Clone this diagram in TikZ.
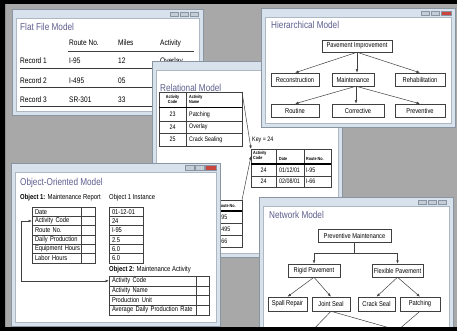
\documentclass[tikz,border=0pt]{standalone}
\usepackage{fontspec}
\setmainfont{Liberation Sans}[FakeStretch=0.82]
\usepackage{xcolor}
\usepackage{tikz}
\usetikzlibrary{arrows.meta,positioning}

\definecolor{bggray}{HTML}{A8A8A8}
\definecolor{winblue}{HTML}{D8E2EC}
\definecolor{winedge}{HTML}{8995A3}
\definecolor{paneedge}{HTML}{AEB8C3}
\definecolor{titlecol}{HTML}{5E5E8E}
\definecolor{boxcol}{HTML}{404040}
\definecolor{btnred}{HTML}{C9453D}
\definecolor{btngray}{HTML}{C4CDD6}

\begin{document}
\begin{tikzpicture}[x=1pt,y=-1pt,>={Latex[length=3.5pt,width=2.6pt]},
  win/.style={fill=winblue,draw=winedge,line width=0.6pt},
  pane/.style={fill=white,draw=paneedge,line width=0.4pt},
  winbtn/.style={fill=btngray,draw=winedge,line width=0.3pt},
  wintitle/.style={anchor=west,inner sep=0pt,text=titlecol,font=\fontsize{10}{12}\selectfont},
  txt/.style={anchor=west,inner sep=0pt,font=\fontsize{8}{9}\selectfont},
  reltxt/.style={anchor=west,inner sep=0pt,font=\fontsize{6.5}{7}\selectfont},
  hdtxt/.style={inner sep=0pt,font=\bfseries\fontsize{4.5}{4.8}\selectfont,align=left},
  ootxt/.style={anchor=west,inner sep=0pt,font=\fontsize{7.2}{8}\selectfont},
  ffrule/.style={line width=1pt,gray!45!black},
  tbox/.style={draw=boxcol,line width=0.5pt,anchor=north west,inner sep=0pt,outer sep=0pt},
  tblline/.style={boxcol,line width=0.5pt},
  hdrule/.style={line width=1.3pt,black},
  hbox/.style={draw=boxcol,fill=white,line width=0.5pt,minimum height=13pt,inner sep=1pt,font=\fontsize{7}{8}\selectfont},
  link/.style={->,boxcol,line width=0.5pt},
  oorow/.style={draw=boxcol,line width=0.5pt,minimum height=9.33pt,inner sep=0pt,inner xsep=3pt,outer sep=0pt,align=left,font=\fontsize{7}{8}\selectfont}]
  \useasboundingbox (0,0) rectangle (457,331);
  \fill[bggray] (0,0) rectangle (457,331);

  % flat file window
  \draw[win] (12,9) rectangle (203,115);
  \draw[pane] (16,18) rectangle (199,111);
  \draw[winbtn] (170,12) rectangle ++(8,4.5) (180,12) rectangle ++(8,4.5) (190,12) rectangle ++(8,4.5);
  \node[wintitle] (fftitle) at (20,27) {Flat File Model};
  \node[txt] (ffroute) at (69,43) {Route No.};
  \node[txt] (ffmiles) at (118,43) {Miles};
  \node[txt] (ffact) at (160,43) {Activity};
  \draw[tblline] (68,51) -- (194,51);
  \node[txt] (ffrec1) at (20,61) {Record 1};
  \node[txt] (ffrte1) at (69,61) {I-95};
  \node[txt] (ffmi1) at (118,61) {12};
  \node[txt] (ffact1) at (160,61) {Overlay};
  \draw[ffrule] (20,69) -- (194,69);
  \node[txt] (ffrec2) at (20,81) {Record 2};
  \node[txt] (ffrte2) at (69,81) {I-495};
  \node[txt] (ffmi2) at (118,81) {05};
  \draw[ffrule] (20,88) -- (194,88);
  \node[txt] (ffrec3) at (20,100) {Record 3};
  \node[txt] (ffrte3) at (69,100) {SR-301};
  \node[txt] (ffmi3) at (118,100) {33};
  \draw[ffrule] (20,107) -- (194,107);

  % relational window
  \draw[win] (152,61) rectangle (342,257);
  \draw[pane] (156,70) rectangle (338,253);
  \node[wintitle] (reltitle) at (160,88) {Relational Model};
  \node[tbox,minimum width=83pt,minimum height=54pt] (acttab) at (159,92) {};
  \draw[tblline] (186,92) -- (186,146) (159,121) -- (242,121) (159,133) -- (242,133);
  \draw[hdrule] (159,107.5) -- (242,107.5);
  \node[hdtxt,align=center] (acth1) at (172.5,99.5) {Activity\\Code};
  \node[hdtxt,anchor=west] (acth2) at (189,99.5) {Activity\\Name};
  \node[reltxt,anchor=center] (actc1) at (172.5,114.5) {23};
  \node[reltxt] (actn1) at (189,114.5) {Patching};
  \node[reltxt,anchor=center] (actc2) at (172.5,127) {24};
  \node[reltxt] (actn2) at (189,127) {Overlay};
  \node[reltxt,anchor=center] (actc3) at (172.5,139.5) {25};
  \node[reltxt] (actn3) at (189,139.5) {Crack Sealing};

  \node[reltxt] (keylbl) at (252,140) {Key = 24};
  \node[tbox,minimum width=80pt,minimum height=38pt] (keytab) at (251,149) {};
  \draw[tblline] (276,149) -- (276,187) (304,149) -- (304,187) (251,176) -- (331,176);
  \draw[hdrule] (251,164) -- (331,164);
  \node[hdtxt,anchor=north west] (keyh1) at (253,151.5) {Activity\\Code};
  \node[hdtxt,anchor=west] (keyh2) at (279,159) {Date};
  \node[hdtxt,anchor=west] (keyh3) at (306,159) {Route No.};
  \node[reltxt,anchor=center] (keyc1) at (263.5,170) {24};
  \node[reltxt] (keyd1) at (279,170) {01/12/01};
  \node[reltxt] (keyr1) at (306,170) {I-95};
  \node[reltxt,anchor=center] (keyc2) at (263.5,181.5) {24};
  \node[reltxt] (keyd2) at (279,181.5) {02/08/01};
  \node[reltxt] (keyr2) at (306,181.5) {I-66};

  \node[tbox,minimum width=52pt,minimum height=47pt] (rtetab) at (190,200) {};
  \draw[tblline] (216,200) -- (216,247) (190,223) -- (242,223) (190,235) -- (242,235);
  \draw[hdrule] (190,211) -- (242,211);
  \node[hdtxt,anchor=west] (rteh) at (218,205.5) {Route No.};
  \node[reltxt] (rte1) at (218,217) {I-95};
  \node[reltxt] (rte2) at (218,229) {I-495};
  \node[reltxt] (rte3) at (218,241) {I-66};

  \draw[link] (acttab.north east) -- (keytab.north west);
  \draw[link] (rtetab.north east) -- ([yshift=-7pt]keytab.north west);

  % hierarchical window
  \draw[win] (261,8) rectangle (455,127);
  \draw[pane] (265,17) rectangle (451,123);
  \draw[winbtn] (421,11) rectangle ++(8,4.5) (431,11) rectangle ++(8,4.5);
  \draw[winbtn,fill=btnred] (441,11) rectangle ++(10,4.5);
  \node[wintitle] (hiertitle) at (271,25) {Hierarchical Model};
  \node[hbox,minimum width=70pt,minimum height=12pt] (pavimp) at (357,46) {Pavement Improvement};
  \node[hbox,minimum width=48pt] (recon) at (295,79.5) {Reconstruction};
  \node[hbox,minimum width=42pt] (maint) at (353,79.5) {Maintenance};
  \node[hbox,minimum width=50pt] (rehab) at (420,79.5) {Rehabilitation};
  \node[hbox,minimum width=48pt] (routine) at (295,110.5) {Routine};
  \node[hbox,minimum width=52pt] (correct) at (358,110.5) {Corrective};
  \node[hbox,minimum width=50pt] (prevent) at (420,110.5) {Preventive};
  \draw[link] (pavimp.south) -- (recon.north);
  \draw[link] (pavimp.south) -- (pavimp.south |- maint.north);
  \draw[link] (pavimp.south) -- (rehab.north);
  \draw[link] ([xshift=3pt]maint.south) -- (routine.north);
  \draw[link] ([xshift=3pt]maint.south) -- ([xshift=-2pt]correct.north);
  \draw[link] ([xshift=3pt]maint.south) -- (prevent.north);

  % object-oriented window
  \draw[win] (11,163) rectangle (220,326);
  \draw[pane] (15,172) rectangle (216,322);
  \draw[winbtn] (185,165) rectangle ++(9,5) (195,165) rectangle ++(9,5);
  \draw[winbtn,fill=btnred] (205,165) rectangle ++(11,5);
  \node[wintitle] (ootitle) at (20,183) {Object-Oriented Model};
  \node[ootxt] (obj1lbl) at (20,198) {\textbf{Object 1:} Maintenance Report};
  \node[ootxt] (inst1lbl) at (109,198) {Object 1 Instance};
  \node[oorow,text width=57pt,anchor=north west] (date) at (32,207) {Date};
  \node[oorow,text width=57pt,below=0pt of date] (actcode1) {Activity Code};
  \node[oorow,text width=57pt,below=0pt of actcode1] (routeno) {Route No.};
  \node[oorow,text width=57pt,below=0pt of routeno] (dailyprod) {Daily Production};
  \node[oorow,text width=57pt,below=0pt of dailyprod] (equiphrs) {Equipment Hours};
  \node[oorow,text width=57pt,below=0pt of equiphrs] (laborhrs) {Labor Hours};
  \draw[tblline] ([xshift=49pt]date.north west) -- ([xshift=49pt]laborhrs.south west);
  \node[oorow,text width=28pt,anchor=north west] (instdate) at (109,207) {01-12-01};
  \node[oorow,text width=28pt,below=0pt of instdate] (instcode) {24};
  \node[oorow,text width=28pt,below=0pt of instcode] (instroute) {I-95};
  \node[oorow,text width=28pt,below=0pt of instroute] (instprod) {2.5};
  \node[oorow,text width=28pt,below=0pt of instprod] (instequip) {6.0};
  \node[oorow,text width=28pt,below=0pt of instequip] (instlabor) {6.0};
  \node[ootxt] (obj2lbl) at (109,270) {\textbf{Object 2:} Maintenance Activity};
  \node[oorow,text width=94pt,minimum height=9.75pt,anchor=north west] (actcode2) at (109,276) {Activity Code};
  \node[oorow,text width=94pt,minimum height=9.75pt,below=0pt of actcode2] (actname) {Activity Name};
  \node[oorow,text width=94pt,minimum height=9.75pt,below=0pt of actname] (produnit) {Production Unit};
  \node[oorow,text width=94pt,minimum height=9.75pt,below=0pt of produnit] (avgrate) {Average Daily Production Rate};
  \draw[tblline] ([xshift=87pt]actcode2.north west) -- ([xshift=87pt]avgrate.south west);
  \draw[<->,boxcol,line width=0.5pt] (actcode2.west) -| ([xshift=-11pt]actcode1.west) -- (actcode1.west);

  % network window
  \draw[win] (259,197) rectangle (453,340);
  \draw[pane] (263,206) rectangle (449,340);
  \draw[winbtn] (418,200) rectangle ++(8,4) (428,200) rectangle ++(8,4) (438,200) rectangle ++(8,4);
  \node[wintitle] (nettitle) at (269,215) {Network Model};
  \node[hbox,minimum width=73pt] (prevmnt) at (354.5,235.5) {Preventive Maintenance};
  \node[hbox,minimum width=52pt] (rigid) at (314,270.5) {Rigid Pavement};
  \node[hbox,minimum width=51pt] (flex) at (397.5,270.5) {Flexible Pavement};
  \node[hbox,minimum width=39pt,minimum height=14pt] (spall) at (287.5,304) {Spall Repair};
  \node[hbox,minimum width=38pt,minimum height=14pt] (joint) at (331,304) {Joint Seal};
  \node[hbox,minimum width=37pt,minimum height=14pt] (crack) at (376.5,304) {Crack Seal};
  \node[hbox,minimum width=40pt,minimum height=14pt] (patch) at (420,304) {Patching};
  \coordinate (netsplit) at (354.5,253);
  \draw[tblline] (prevmnt.south) -- (netsplit);
  \draw[link] (netsplit) -| (rigid.north);
  \draw[link] (netsplit) -| (flex.north);
  \draw[link] (rigid.south) -- (spall.north);
  \draw[link] (rigid.south) -- (joint.north);
  \draw[link] (flex.south) -- (crack.north);
  \draw[link] (flex.south) -- (patch.north);
  \coordinate (netlow1) at (307,336);
  \coordinate (netlow2) at (418,336);
  \coordinate (netlow3) at (391,336);
  \draw[tblline] (joint.south) -- (netlow1);
  \draw[tblline] (joint.south) -- (netlow2);
  \draw[tblline] (patch.south) -- (netlow3);

  % outer frame
  \fill[black,even odd rule] (0,0) rectangle (457,331) (5,4) rectangle (457,327);
\end{tikzpicture}
\end{document}
